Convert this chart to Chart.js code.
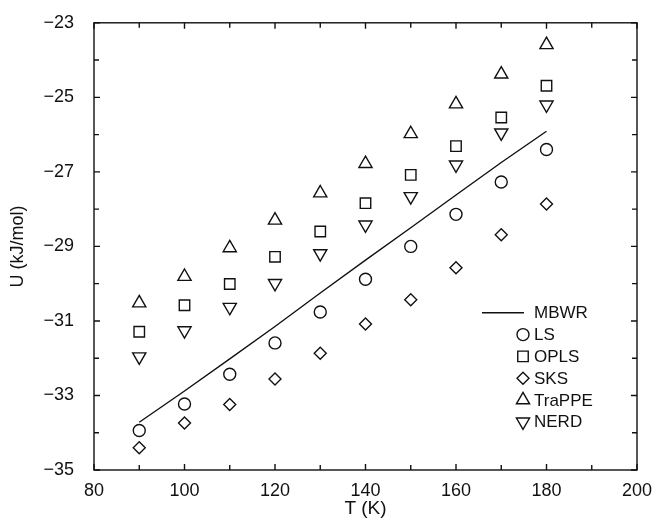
<!DOCTYPE html>
<html>
<head>
<meta charset="utf-8">
<script src="https://cdn.jsdelivr.net/npm/chart.js@4.4.1/dist/chart.umd.min.js"></script>
<style>
html, body { margin: 0; padding: 0; background: #fff; }
</style>
</head>
<body>
<canvas id="chart" width="655" height="521"></canvas>
<script>
// T (K) and U (kJ/mol)
const temps = [90, 100, 110, 120, 130, 140, 150, 160, 170, 180];
const mbwr = [-33.72, -32.88, -32.02, -31.15, -30.25, -29.37, -28.50, -27.62, -26.75, -25.91];
const ls = [-33.94, -33.23, -32.43, -31.59, -30.76, -29.88, -29.00, -28.14, -27.27, -26.40];
const opls = [-31.29, -30.58, -30.01, -29.28, -28.60, -27.84, -27.08, -26.31, -25.54, -24.69];
const sks = [-34.40, -33.74, -33.24, -32.56, -31.87, -31.08, -30.43, -29.57, -28.69, -27.86];
const trappe = [-30.52, -29.81, -29.04, -28.30, -27.57, -26.78, -25.98, -25.18, -24.38, -23.59];
const nerd = [-31.96, -31.26, -30.63, -29.99, -29.19, -28.42, -27.66, -26.81, -25.95, -25.20];

const xTickLabels = [80, 100, 120, 140, 160, 180, 200];
const xMinorTicks = [80, 90, 100, 110, 120, 130, 140, 150, 160, 170, 180, 190, 200];
const yTickLabels = [-35, -33, -31, -29, -27, -25, -23];
const yMinorTicks = [-35, -34, -33, -32, -31, -30, -29, -28, -27, -26, -25, -24, -23];

const FONT = "'Liberation Sans', Arial, Helvetica, sans-serif";
const INK = "#111";

const toXY = vals => temps.map((t, i) => ({ x: t, y: vals[i] }));

const markerSet = (label, vals, style, radius, rotation) => ({
    label: label,
    data: toXY(vals),
    showLine: false,
    pointStyle: style,
    pointRadius: radius,
    pointRotation: rotation || 0,
    pointBorderColor: INK,
    pointBackgroundColor: "rgba(0,0,0,0)",
    pointBorderWidth: 1.4,
    borderColor: INK
});

// inward ticks on all four sides plus the box
const frameTicks = {
    id: "frameTicks",
    afterDraw(chart) {
        const { ctx, chartArea: a, scales } = chart;
        ctx.save();
        ctx.strokeStyle = INK;
        ctx.lineWidth = 1.4;
        ctx.strokeRect(a.left, a.top, a.right - a.left, a.bottom - a.top);
        ctx.beginPath();
        xMinorTicks.forEach(v => {
            const px = scales.x.getPixelForValue(v);
            const len = xTickLabels.includes(v) ? 6 : 5;
            ctx.moveTo(px, a.bottom); ctx.lineTo(px, a.bottom - len);
            ctx.moveTo(px, a.top); ctx.lineTo(px, a.top + len);
        });
        yMinorTicks.forEach(v => {
            const py = scales.y.getPixelForValue(v);
            const len = yTickLabels.includes(v) ? 6 : 5;
            ctx.moveTo(a.left, py); ctx.lineTo(a.left + len, py);
            ctx.moveTo(a.right, py); ctx.lineTo(a.right - len, py);
        });
        ctx.stroke();
        ctx.restore();
    }
};

// legend inside the plot, lower right
const insideLegend = {
    id: "insideLegend",
    afterDraw(chart) {
        const { ctx, chartArea: a } = chart;
        const symX = a.left + 429;
        const textX = a.left + 440;
        let y = a.top + 290;
        const rowH = 21.8;
        ctx.save();
        ctx.font = "17px " + FONT;
        ctx.textBaseline = "middle";
        chart.data.datasets.forEach(ds => {
            ctx.strokeStyle = INK;
            ctx.lineWidth = 1.4;
            if (ds.showLine) {
                ctx.beginPath();
                ctx.moveTo(a.left + 388, y);
                ctx.lineTo(a.left + 430, y);
                ctx.stroke();
            } else {
                ctx.fillStyle = "rgba(0,0,0,0)";
                Chart.helpers.drawPoint(ctx, {
                    pointStyle: ds.pointStyle,
                    radius: ds.pointRadius,
                    rotation: ds.pointRotation,
                    borderWidth: 1.4
                }, symX, y);
            }
            ctx.fillStyle = INK;
            ctx.fillText(ds.label, textX, y + 1);
            y += rowH;
        });
        ctx.restore();
    }
};

new Chart(document.getElementById("chart"), {
    type: "scatter",
    data: {
        datasets: [
            {
                label: "MBWR",
                data: toXY(mbwr),
                showLine: true,
                borderColor: INK,
                borderWidth: 1.4,
                pointRadius: 0,
                tension: 0
            },
            markerSet("LS", ls, "circle", 6),
            markerSet("OPLS", opls, "rect", 7.4),
            markerSet("SKS", sks, "rectRot", 6),
            markerSet("TraPPE", trappe, "triangle", 7.6),
            markerSet("NERD", nerd, "triangle", 7.6, 180)
        ]
    },
    options: {
        responsive: false,
        animation: false,
        layout: { padding: { top: 19, right: 18, left: 0, bottom: 0 } },
        plugins: {
            legend: { display: false },
            tooltip: { enabled: false }
        },
        scales: {
            x: {
                type: "linear",
                min: 80,
                max: 200,
                afterBuildTicks: scale => { scale.ticks = xTickLabels.map(v => ({ value: v })); },
                afterFit: scale => { scale.height = 51; },
                grid: { display: false },
                border: { display: false },
                ticks: {
                    color: INK,
                    padding: 2,
                    maxRotation: 0,
                    font: { family: FONT, size: 18 }
                },
                title: {
                    display: true,
                    text: "T (K)",
                    color: INK,
                    padding: { top: 0, bottom: 1 },
                    font: { family: FONT, size: 19 }
                }
            },
            y: {
                type: "linear",
                min: -35,
                max: -23,
                afterBuildTicks: scale => { scale.ticks = yTickLabels.map(v => ({ value: v })); },
                afterFit: scale => { scale.width = 94; },
                grid: { display: false },
                border: { display: false },
                ticks: {
                    color: INK,
                    padding: 12,
                    font: { family: FONT, size: 18 },
                    callback: v => String(v).replace("-", "\u2212")
                },
                title: {
                    display: true,
                    text: "U (kJ/mol)",
                    color: INK,
                    padding: { top: 7, bottom: 0 },
                    font: { family: FONT, size: 18 }
                }
            }
        }
    },
    plugins: [frameTicks, insideLegend]
});
</script>
</body>
</html>
